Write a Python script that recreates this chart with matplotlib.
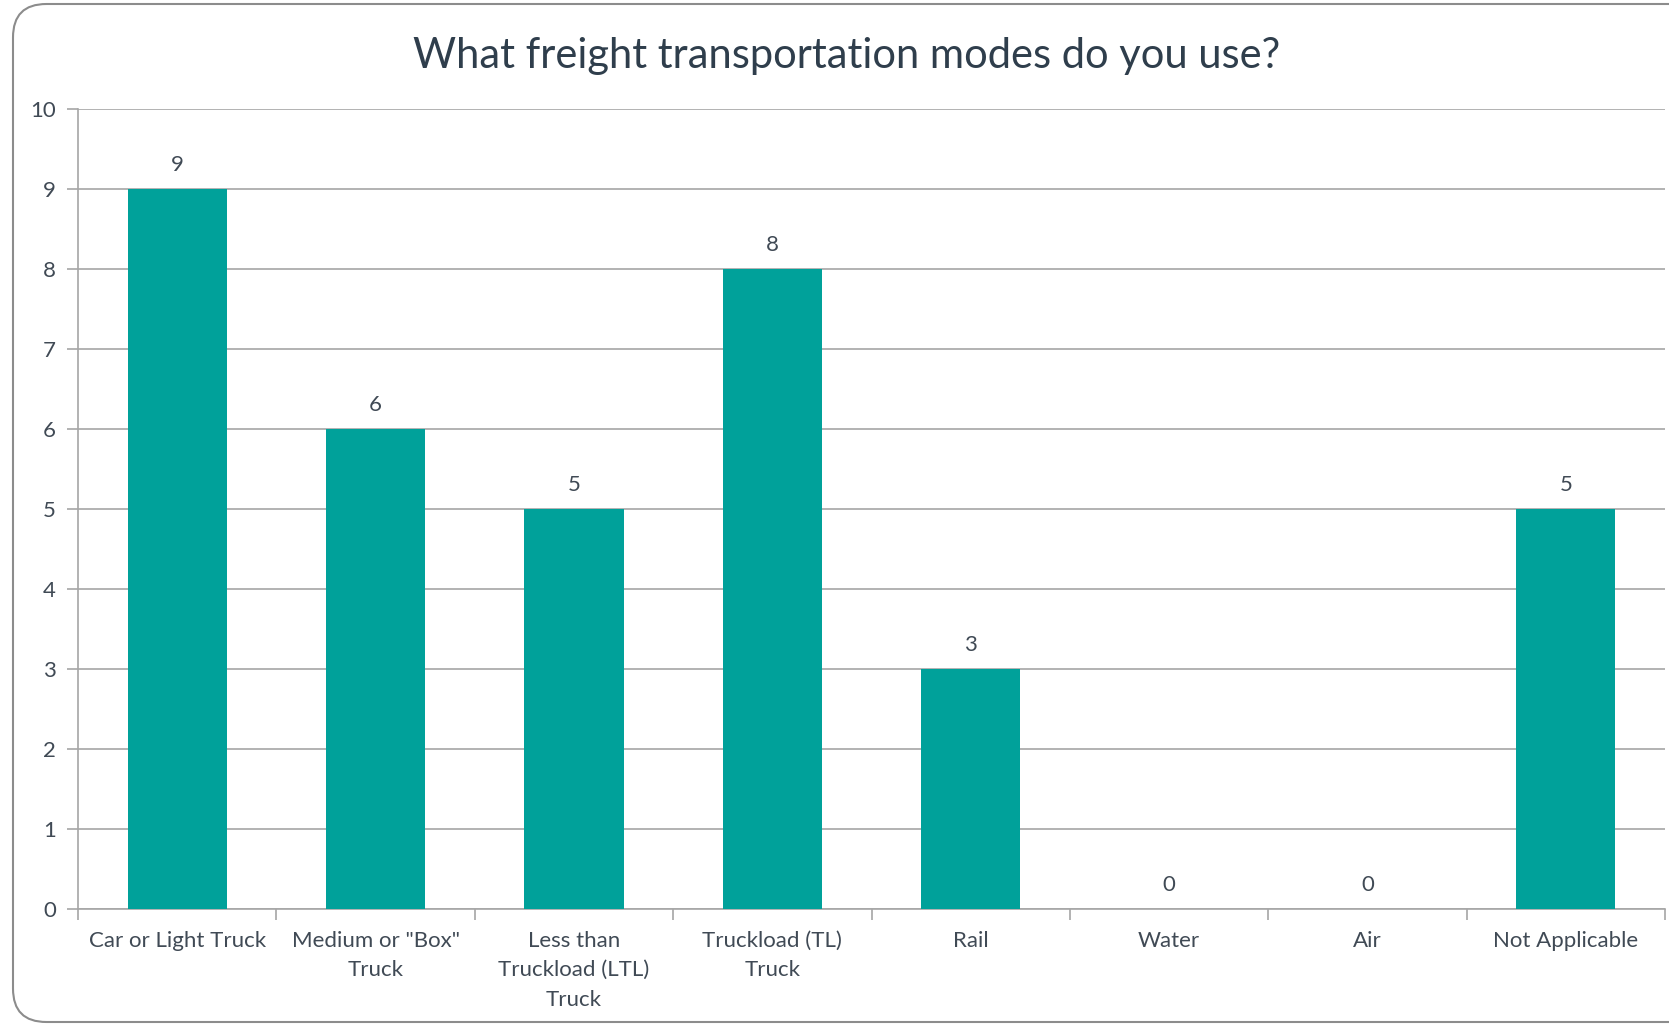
import matplotlib
matplotlib.use("Agg")
import matplotlib.pyplot as plt
from matplotlib.patches import FancyBboxPatch
import numpy as np

categories = ['Car or Light Truck', 'Medium or "Box"\nTruck', 'Less than\nTruckload (LTL)\nTruck',
              'Truckload (TL)\nTruck', 'Rail', 'Water', 'Air', 'Not Applicable']
counts = [9, 6, 5, 8, 3, 0, 0, 5]
title = 'What freight transportation modes do you use?'

BAR_COLOR = '#00A19A'
TEXT_COLOR = '#404A55'
GRID_COLOR = '#A6A6A6'

plt.rcParams['font.family'] = ['Lato', 'DejaVu Sans']

fig = plt.figure(figsize=(16.69, 10.26), dpi=100)
ax = fig.add_axes([78 / 1669, 1 - 909 / 1026, (1665 - 78) / 1669, 800 / 1026])

# rounded chart-area frame, runs off the right edge like the screenshot
frame = FancyBboxPatch((13 / 1669, 4 / 1026), 1.2, 1 - 8 / 1026,
                       boxstyle='round,pad=0,rounding_size=0.02',
                       transform=fig.transFigure, facecolor='none',
                       edgecolor='#8C8C8C', linewidth=1.5, mutation_aspect=1669 / 1026)
fig.patches.append(frame)

x = np.arange(len(categories))
bars = ax.bar(x, counts, width=0.5, color=BAR_COLOR, zorder=3)

for xi, v in zip(x, counts):
    ax.annotate(str(v), (xi, v), xytext=(0, 10), textcoords='offset points',
                ha='center', va='bottom', fontsize=16, color=TEXT_COLOR)

ax.set_xlim(-0.5, len(categories) - 0.5)
ax.set_ylim(0, 10)
ax.set_yticks(range(0, 11))
ax.yaxis.grid(True, color=GRID_COLOR, linewidth=1.2, zorder=0)
ax.set_axisbelow(True)

ax.set_xticks(x)
ax.set_xticklabels(categories, fontsize=16, color=TEXT_COLOR, linespacing=1.6)
ax.set_xticks(np.arange(-0.5, len(categories)), minor=True)
ax.tick_params(axis='x', which='major', length=0, pad=15.5)
ax.tick_params(axis='x', which='minor', length=8, width=1.2, color=GRID_COLOR)
ax.tick_params(axis='y', length=8, width=1.2, color=GRID_COLOR, labelsize=16,
               labelcolor=TEXT_COLOR, pad=8)

for side in ['top', 'right']:
    ax.spines[side].set_visible(False)
ax.spines['left'].set_color(GRID_COLOR)
ax.spines['bottom'].set_color(GRID_COLOR)
ax.spines['left'].set_linewidth(1.2)
ax.spines['bottom'].set_linewidth(1.2)

fig.text(847 / 1669, 1 - 56 / 1026, title, ha='center', va='center',
         fontsize=30, color='#2F3E4C')

fig.savefig('out.png', dpi=100)
